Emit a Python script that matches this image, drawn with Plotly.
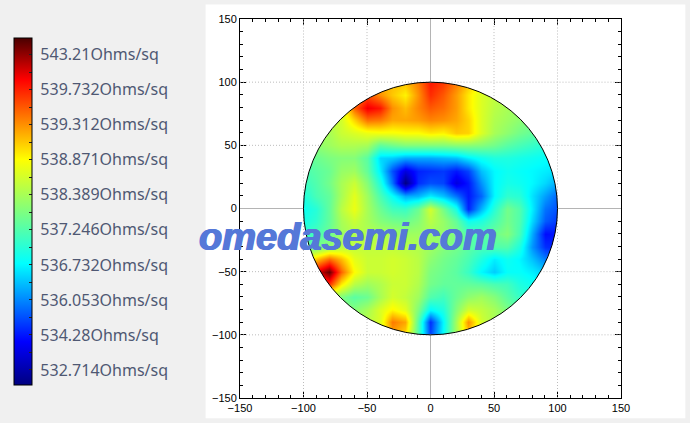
import numpy as np
import plotly.graph_objects as go

x_mm = list(range(-100, 101, 10))
y_mm = list(range(100, -101, -10))
level_labels = ["532.714Ohms/sq", "534.28Ohms/sq", "536.053Ohms/sq", "536.732Ohms/sq", "537.246Ohms/sq",
                "538.389Ohms/sq", "538.871Ohms/sq", "539.312Ohms/sq", "539.732Ohms/sq", "543.21Ohms/sq"]
# colour-bar position of each wafer site, in units of label steps (0 = lowest label, 9 = highest)
sheet_levels = [
 [5.0,5.0,5.0,5.2,5.8,6.3,6.6,6.6,6.6,7.2,8.1,7.8,7.2,6.6,5.8,5.4,5.2,5.0,5.0,5.0,5.0],
 [5.0,5.0,5.0,5.4,7.0,7.6,7.0,6.5,6.1,7.0,7.9,7.5,6.9,6.2,5.6,5.3,5.1,5.0,5.0,5.0,5.0],
 [5.0,5.0,5.0,5.6,7.4,8.4,8.1,7.0,6.6,7.1,7.5,7.3,6.9,6.2,5.6,5.2,5.0,4.8,4.7,4.6,4.6],
 [5.0,5.0,5.2,5.5,6.4,7.3,7.2,6.8,6.8,6.9,7.1,7.0,6.8,6.4,5.6,5.1,4.9,4.7,4.5,4.4,4.4],
 [4.9,4.9,5.0,5.4,5.6,5.8,5.9,5.9,6.0,6.0,6.2,6.1,6.5,6.4,5.6,5.0,4.7,4.4,4.2,4.1,4.1],
 [4.6,4.7,4.9,5.1,5.1,5.0,4.2,4.4,4.6,4.6,4.6,4.6,4.7,4.7,4.6,4.4,4.1,3.9,3.7,3.5,3.4],
 [4.1,4.3,4.5,4.6,4.6,4.1,2.7,2.6,2.3,2.3,2.3,2.4,2.5,2.9,3.2,3.4,3.4,3.3,3.2,3.1,3.0],
 [3.9,4.1,4.3,4.8,4.9,4.2,2.9,1.5,0.5,1.1,1.2,1.3,1.0,1.4,2.5,3.0,3.2,3.1,3.0,2.9,2.8],
 [3.7,4.0,4.4,5.0,5.4,4.6,3.4,1.8,-0.4,1.2,1.5,1.4,0.5,1.0,2.1,3.0,3.3,3.2,3.0,2.7,2.3],
 [3.4,3.9,4.2,5.0,5.7,4.9,3.9,3.1,2.3,2.4,2.9,2.5,1.8,1.0,1.7,3.0,3.6,3.5,2.8,2.2,1.7],
 [3.2,3.5,4.2,5.2,5.8,5.0,4.3,3.8,3.7,4.3,5.5,4.4,3.3,1.1,2.4,3.5,4.4,4.0,2.9,1.8,1.5],
 [3.3,3.6,4.2,5.0,5.4,5.0,4.6,4.4,4.3,4.6,5.2,4.8,4.2,3.2,3.4,3.9,4.4,4.0,2.7,1.6,1.3],
 [3.6,3.9,4.3,4.9,5.1,5.1,5.1,5.0,4.9,4.9,4.9,4.8,4.5,4.0,4.0,4.3,4.6,3.9,2.3,0.9,1.0],
 [4.0,4.4,4.8,5.2,5.3,5.3,5.3,5.3,5.2,5.1,4.9,4.6,4.4,4.1,3.9,4.0,4.0,3.4,2.1,1.2,1.1],
 [5.5,6.5,7.3,6.6,5.7,5.4,5.4,5.5,5.4,5.2,4.7,4.4,4.2,3.9,3.4,2.9,3.2,3.0,2.5,1.9,1.7],
 [7.5,8.4,9.3,7.4,6.0,5.4,5.4,5.5,5.4,5.2,4.5,4.3,4.1,3.7,3.0,2.6,3.1,3.1,2.9,2.6,2.5],
 [7.0,7.4,7.9,6.2,5.2,4.9,5.1,5.4,5.4,5.1,4.4,4.2,4.2,4.2,4.1,3.9,3.8,3.4,3.2,3.0,3.0],
 [5.0,5.0,5.0,4.5,4.1,4.3,5.0,5.5,5.3,4.9,4.0,3.8,4.3,4.7,4.9,4.6,4.1,3.7,3.4,3.2,3.2],
 [4.6,4.6,4.6,4.6,4.6,5.0,5.6,6.1,5.7,4.5,3.0,3.4,4.6,5.5,5.3,5.0,4.5,4.0,3.6,3.4,3.4],
 [4.6,4.6,4.6,4.6,4.8,5.2,5.6,7.2,6.8,4.0,1.2,3.0,5.0,7.0,5.5,5.0,4.5,4.0,3.6,3.4,3.4],
 [4.6,4.6,4.6,4.6,4.8,5.2,5.6,6.8,6.3,3.9,1.4,3.1,5.0,6.5,5.5,5.0,4.5,4.0,3.6,3.4,3.4],
]
axis_ticks = [-150, -100, -50, 0, 50, 100, 150]
wafer_radius = 100
span = 150

jet = [[0, "#00007f"], [0.125, "#0000ff"], [0.35, "#00ffff"], [0.5, "#7fff7f"], [0.65, "#ffff00"],
       [0.88, "#ff0000"], [1, "#4a0000"]]
tick_positions = [v / 2 for v in range(0, 19)]
tick_text = ["\u00a0" + level_labels[int(v)] if v == int(v) else "" for v in tick_positions]

fig = go.Figure(go.Heatmap(
    x=x_mm, y=y_mm, z=sheet_levels, zsmooth="best", colorscale=jet, zmin=-0.43, zmax=9.48,
    colorbar=dict(
        x=(13 - 239.5) / 382, xanchor="left", y=(398.5 - 211.5) / 380, yanchor="middle",
        lenmode="pixels", len=347, thickness=18, thicknessmode="pixels", xpad=0, ypad=0,
        outlinecolor="#000000", outlinewidth=1, borderwidth=0,
        tickmode="array", tickvals=tick_positions, ticktext=tick_text, ticks="inside", ticklen=3,
        tickcolor="#222222", tickfont=dict(family="Noto Sans", size=16, color="#4f5873"),
    ),
))

# Only the square holding the map is masked, so axis ticks stay visible
m = wafer_radius + 6
ring = (f"M {-m} {-m} H {m} V {m} H {-m} Z "
        + "M " + " L ".join(f"{wafer_radius*np.cos(a):.3f} {wafer_radius*np.sin(a):.3f}"
                            for a in np.linspace(0, 2*np.pi, 361)) + " Z")
shapes = [
    dict(type="rect", xref="paper", yref="paper", x0=(205 - 239.5) / 382, x1=(686 - 239.5) / 382,
         y0=(398.5 - 418.7) / 380, y1=(398.5 - 4) / 380, fillcolor="white", line_width=0, layer="below"),
    dict(type="path", path=ring, fillcolor="white", line_width=0, layer="above"),
]
def grid(t, a, b):
    st = dict(color="#b4b4b4", width=1) if t == 0 else dict(color="#bcbcbc", width=1, dash="1px,2px")
    shapes.append(dict(type="line", x0=t, x1=t, y0=a, y1=b, line=st, layer="above"))
    shapes.append(dict(type="line", y0=t, y1=t, x0=a, x1=b, line=st, layer="above"))
for t in axis_ticks[1:-1]:
    h = np.sqrt(max(wafer_radius**2 - t**2, 0))
    grid(t, h, span)
    grid(t, -span, -h)
shapes.append(dict(type="circle", x0=-wafer_radius, x1=wafer_radius, y0=-wafer_radius, y1=wafer_radius,
                   line=dict(color="#000000", width=1), layer="above"))

axis = dict(range=[-span, span], tickvals=axis_ticks, showgrid=False, zeroline=False,
            showline=True, linecolor="#000000", linewidth=1, mirror="ticks",
            ticks="inside", ticklen=6, tickcolor="#000000", tickwidth=1,
            tickfont=dict(family="Liberation Sans", size=11, color="#000000"),
            minor=dict(dtick=10, tick0=0, ticks="inside", ticklen=3, tickcolor="#000000", showgrid=False))
fig.update_layout(
    width=690, height=423, autosize=False,
    margin=dict(l=239.5, r=690 - 621.5, t=18.5, b=423 - 398.5, pad=0, autoexpand=False),
    paper_bgcolor="#f0f0f0", plot_bgcolor="white", xaxis=axis, yaxis=axis, shapes=shapes,
    annotations=[dict(text="<b><i>omedasemi.com</i></b>", x=(347.5 - 239.5) / 382, y=(398.5 - 237) / 380,
                      xref="paper", yref="paper", showarrow=False, xanchor="center", yanchor="middle",
                      font=dict(family="Liberation Sans", size=38, color="#5578d8",
                                shadow="0.8px 0 0 #5578d8, -0.8px 0 0 #5578d8"))],
)
fig.write_html("out.html", post_script="document.body.style.margin='0';",
               config=dict(displayModeBar=False))
